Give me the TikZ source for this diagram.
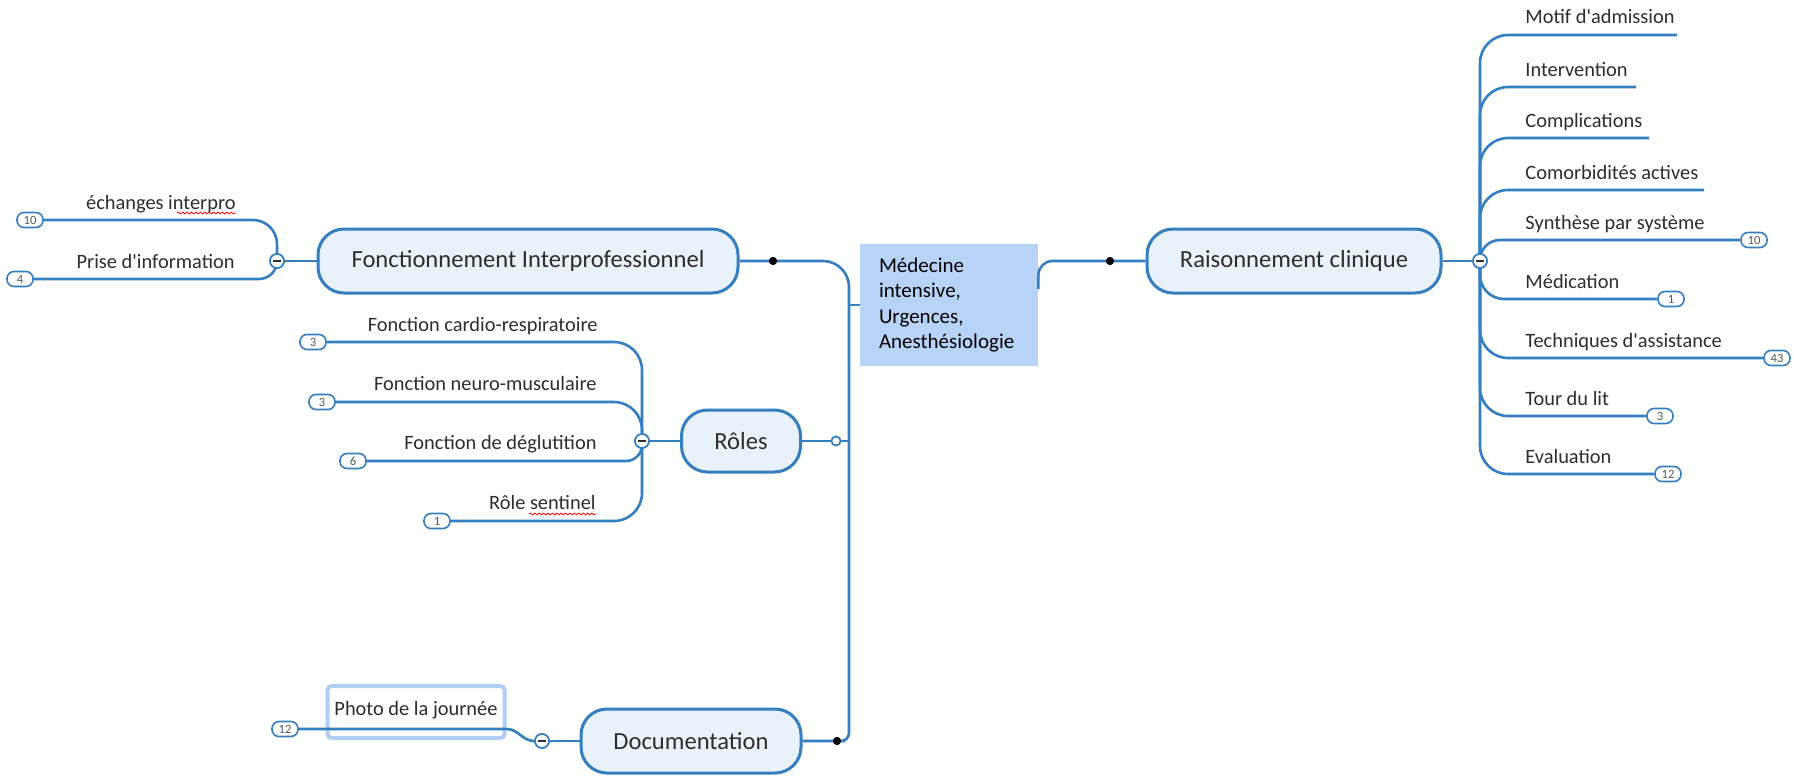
\documentclass[tikz,border=0pt]{standalone}
\usepackage{fontspec}
\setmainfont{Carlito}[Ligatures=TeXOff]
\usepackage{xcolor}
\usetikzlibrary{decorations.pathmorphing}

\definecolor{mapblue}{RGB}{52,126,194}
\definecolor{topicfill}{RGB}{233,241,250}
\definecolor{centfill}{RGB}{183,211,247}
\definecolor{photoedge}{RGB}{175,208,242}
\definecolor{textgray}{RGB}{45,45,45}

\tikzset{
  link/.style={draw=mapblue, line width=1.3pt},
  topic/.style={draw=mapblue, fill=topicfill, line width=1.5pt, rounded corners=13pt,
    minimum height=32pt, text=textgray, font=\fontsize{12.3}{14}\selectfont},
  leaf/.style={inner sep=0pt, text=textgray, font=\fontsize{10.2}{12}\selectfont},
  count/.style={draw=mapblue, fill=white, line width=0.8pt, rounded corners=3.5pt,
    minimum width=13pt, minimum height=7.5pt, inner sep=0pt,
    font=\fontsize{6.3}{6.5}\selectfont, text=black!65},
  fold/.style={circle, draw=mapblue, fill=white, line width=0.8pt, minimum size=7pt, inner sep=0pt,
    path picture={\draw[line width=0.7pt, textgray]
      ([xshift=-1.8pt]path picture bounding box.center) -- ([xshift=1.8pt]path picture bounding box.center);}},
  knot/.style={circle, fill=black, minimum size=4pt, inner sep=0pt},
  ring/.style={circle, draw=mapblue, fill=white, line width=0.8pt, minimum size=4.5pt, inner sep=0pt},
  spell/.style={red, line width=0.4pt, decorate, decoration={snake, amplitude=0.45pt, segment length=2.2pt}}
}

\begin{document}
\begin{tikzpicture}[x=0.5pt, y=-0.5pt]
\useasboundingbox (0,0) rectangle (1794,776);

\node[fill=centfill, minimum width=89pt, minimum height=61pt, text width=70pt, inner xsep=9.5pt,
  align=left, font=\fontsize{10.5}{12.6}\selectfont] (cen) at (949,305)
  {Médecine\\intensive,\\Urgences,\\Anesthésiologie};

\node[topic, minimum width=210pt] (fi) at (528,261) {Fonctionnement Interprofessionnel};
\node[topic, minimum width=147pt] (rc) at (1294,261) {Raisonnement clinique};
\node[topic, minimum width=59.5pt, minimum height=31pt] (ro) at (741,441) {Rôles};
\node[topic, minimum width=110pt] (doc) at (691,741) {Documentation};

\coordinate (trunk) at (849,305);
\node[knot] (fdot) at (773,261) {};
\node[knot] (rdot) at (1110,261) {};
\node[ring] (rodot) at (836,441) {};
\node[knot] (ddot) at (837,741) {};

\node[fold] (ffold) at (277,261) {};
\node[fold] (rfold) at (1480,261) {};
\node[fold] (rofold) at (642,441) {};
\node[fold] (dfold) at (542,741) {};

% Fonctionnement Interprofessionnel
\node[count] (ec) at (30,220) {10};
\node[count] (pc) at (20,279) {4};
\node[leaf, anchor=base east] (ech) at (236,209) {échanges interpro};
\node[leaf, anchor=base east] (prise) at (235,268) {Prise d'information};

% Rôles
\node[count] (cc) at (313,342) {3};
\node[count] (nc) at (322,402) {3};
\node[count] (dc) at (353,461) {6};
\node[count] (sc) at (437,521) {1};
\node[leaf, anchor=base east] (card) at (598,331) {Fonction cardio-respiratoire};
\node[leaf, anchor=base east] (neuro) at (597,390) {Fonction neuro-musculaire};
\node[leaf, anchor=base east] (degl) at (597,449) {Fonction de déglutition};
\node[leaf, anchor=base east] (sent) at (596,509) {Rôle sentinel};

% Documentation
\node[draw=photoedge, fill=white, line width=2pt, rounded corners=2pt, minimum width=88.5pt,
  minimum height=26pt, inner sep=0pt] (photo) at (416,712) {};
\node[leaf] (phtext) at (416,710) {Photo de la journée};
\node[count] (phc) at (285,729) {12};

% Raisonnement clinique
\coordinate (motifend) at (1677,35);
\coordinate (intervend) at (1636,87);
\coordinate (complend) at (1649,138);
\coordinate (comorbend) at (1704,190);
\node[count] (syc) at (1754,240) {10};
\node[count] (mec) at (1671,299) {1};
\node[count] (tec) at (1777,358) {43};
\node[count] (toc) at (1660,416) {3};
\node[count] (evc) at (1668,474) {12};
\node[leaf, anchor=base west] (motif) at (1525,24) {Motif d'admission};
\node[leaf, anchor=base west] (interv) at (1525,76) {Intervention};
\node[leaf, anchor=base west] (compl) at (1525,127) {Complications};
\node[leaf, anchor=base west] (comorb) at (1525,179) {Comorbidités actives};
\node[leaf, anchor=base west] (synth) at (1525,229) {Synthèse par système};
\node[leaf, anchor=base west] (medic) at (1525,288) {Médication};
\node[leaf, anchor=base west] (tech) at (1525,347) {Techniques d'assistance};
\node[leaf, anchor=base west] (tour) at (1525,405) {Tour du lit};
\node[leaf, anchor=base west] (eval) at (1525,463) {Evaluation};

\draw[link] (cen.west) -- (trunk);
\draw[link, rounded corners=13pt] (trunk) |- (fdot.center) -- (fi.east);
\draw[link, rounded corners=4pt] (trunk) -- (trunk |- ddot) -- (ddot.center) -- (doc.east);
\draw[link] (trunk |- rodot) -- (rodot) -- (ro.east);
\draw[link, rounded corners=7pt] ([yshift=8pt]cen.east) |- (rdot.center) -- (rc.west);

\draw[link] (fi.west) -- (ffold);
\draw[link, rounded corners=12pt] (ffold) |- (ec);
\draw[link, rounded corners=9pt] (ffold) |- (pc);

\draw[link] (ro.west) -- (rofold);
\draw[link, rounded corners=14pt] (rofold) |- (cc);
\draw[link, rounded corners=14pt] (rofold) |- (nc);
\draw[link, rounded corners=8pt] (rofold) |- (dc);
\draw[link, rounded corners=14pt] (rofold) |- (sc);

\draw[link] (doc.west) -- (dfold);
\draw[link] (phc) -- (phc -| photo.east) to[out=0, in=180] (dfold);

\draw[link] (rc.east) -- (rfold);
\draw[link, rounded corners=14pt] (rfold) |- (motifend);
\draw[link, rounded corners=14pt] (rfold) |- (intervend);
\draw[link, rounded corners=14pt] (rfold) |- (complend);
\draw[link, rounded corners=14pt] (rfold) |- (comorbend);
\draw[link, rounded corners=10pt] (rfold) |- (syc);
\draw[link, rounded corners=12pt] (rfold) |- (mec);
\draw[link, rounded corners=14pt] (rfold) |- (tec);
\draw[link, rounded corners=14pt] (rfold) |- (toc);
\draw[link, rounded corners=14pt] (rfold) |- (evc);

\node[knot] at (fdot) {};
\node[knot] at (rdot) {};
\node[ring] at (rodot) {};
\node[knot] at (ddot) {};
\node[fold] at (ffold) {};
\node[fold] at (rfold) {};
\node[fold] at (rofold) {};
\node[fold] at (dfold) {};

\draw[spell] ([shift={(-59,4)}]ech.base east) -- ([shift={(0,4)}]ech.base east);
\draw[spell] ([shift={(-67,5)}]sent.base east) -- ([shift={(0,5)}]sent.base east);
\end{tikzpicture}
\end{document}
